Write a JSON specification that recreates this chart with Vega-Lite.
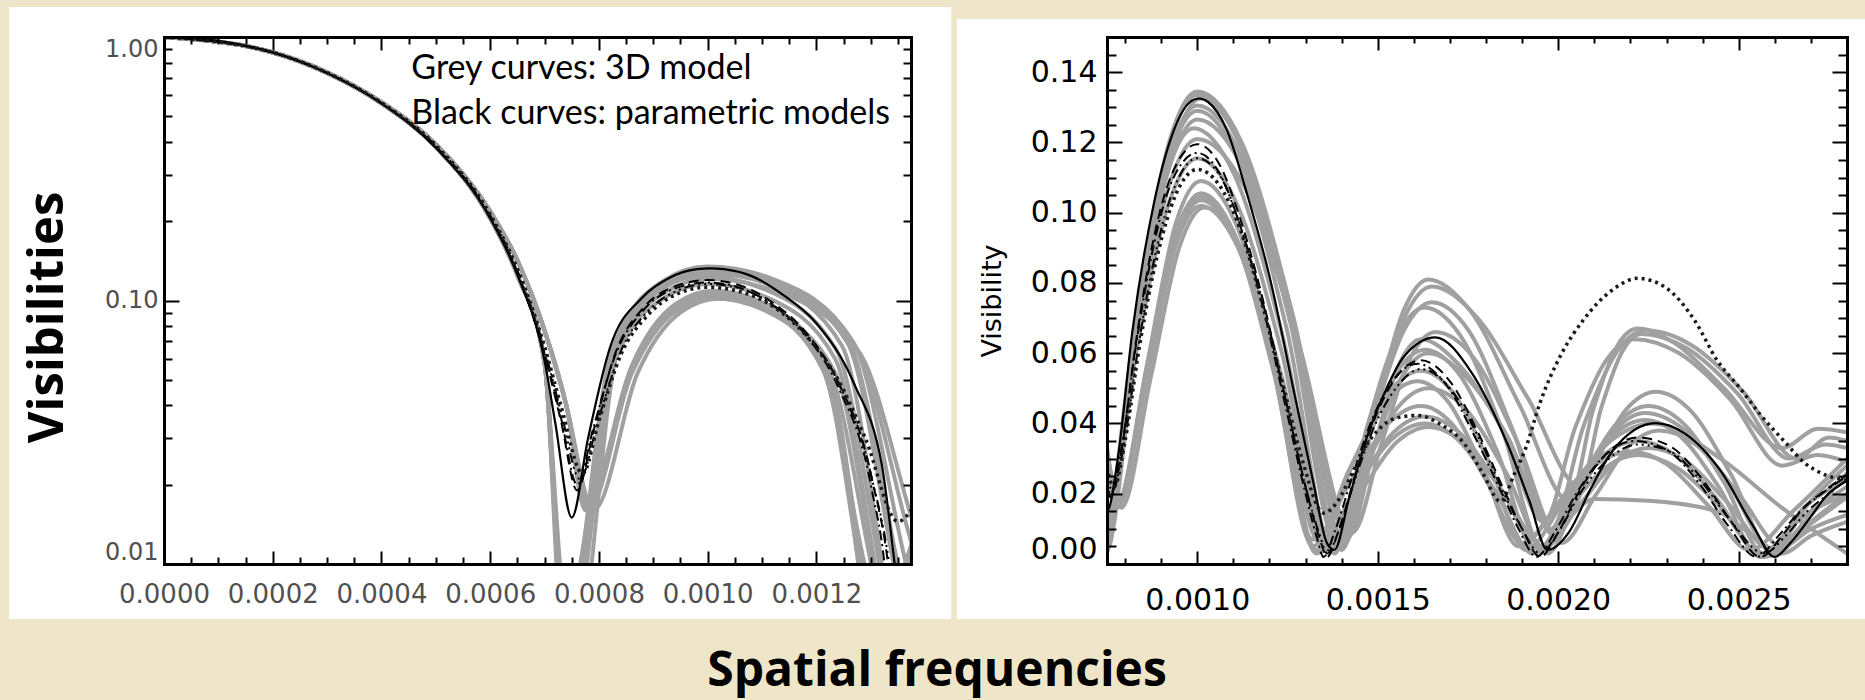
{
  "$schema": "https://vega.github.io/schema/vega-lite/v6.json",
  "background": "#efe6c9",
  "padding": {"left": 9, "top": 6, "right": 0, "bottom": 6},
  "autosize": {"type": "pad"},
  "title": {"text": "Spatial frequencies", "orient": "bottom", "anchor": "middle", "font": "Open Sans", "fontSize": 48, "fontWeight": "bold", "color": "black", "offset": 29},
  "spacing": 196,
  "bounds": "flush",
  "config": {
    "view": {"stroke": null},
    "axis": {"grid": false, "domainColor": "black", "domainWidth": 3, "domainCap": "square", "tickColor": "black", "tickWidth": 2, "labelFont": "DejaVu Sans"}
  },
  "datasets": {
    "grey": [
      {"curve":"G01","freq":0,"vis":1.0},{"curve":"G01","freq":0.0002,"vis":0.873},{"curve":"G01","freq":0.0003,"vis":0.73},{"curve":"G01","freq":0.0004,"vis":0.56},{"curve":"G01","freq":0.0005,"vis":0.383},{"curve":"G01","freq":0.0006,"vis":0.205},{"curve":"G01","freq":0.00065,"vis":0.125},{"curve":"G01","freq":0.0007,"vis":0.058},
      {"curve":"G01","freq":0.00074,"vis":0.004},{"curve":"G01","freq":0.000831,"vis":0.070},{"curve":"G01","freq":0.000922,"vis":0.120},{"curve":"G01","freq":0.001,"vis":0.1345},{"curve":"G01","freq":0.001123,"vis":0.120},{"curve":"G01","freq":0.001267,"vis":0.070},{"curve":"G01","freq":0.00141,"vis":0.006},
      {"curve":"G01","freq":0.00149,"vis":0.042},{"curve":"G01","freq":0.001571,"vis":0.072},{"curve":"G01","freq":0.00164,"vis":0.081},{"curve":"G01","freq":0.001757,"vis":0.072},{"curve":"G01","freq":0.001894,"vis":0.045},{"curve":"G01","freq":0.00203,"vis":0.018},
      {"curve":"G01","freq":0.002097,"vis":0.044},{"curve":"G01","freq":0.002163,"vis":0.062},{"curve":"G01","freq":0.00222,"vis":0.067},{"curve":"G01","freq":0.00232,"vis":0.063},{"curve":"G01","freq":0.00246,"vis":0.050},{"curve":"G01","freq":0.00262,"vis":0.033},{"curve":"G01","freq":0.00272,"vis":0.0385},{"curve":"G01","freq":0.0028,"vis":0.0375},

      {"curve":"G02","freq":0,"vis":1.0},{"curve":"G02","freq":0.0002,"vis":0.873},{"curve":"G02","freq":0.0003,"vis":0.73},{"curve":"G02","freq":0.0004,"vis":0.56},{"curve":"G02","freq":0.0005,"vis":0.383},{"curve":"G02","freq":0.0006,"vis":0.205},{"curve":"G02","freq":0.00065,"vis":0.125},{"curve":"G02","freq":0.0007,"vis":0.058},
      {"curve":"G02","freq":0.00074,"vis":0.005},{"curve":"G02","freq":0.000831,"vis":0.0697},{"curve":"G02","freq":0.000922,"vis":0.119},{"curve":"G02","freq":0.001,"vis":0.1335},{"curve":"G02","freq":0.00112,"vis":0.119},{"curve":"G02","freq":0.00126,"vis":0.0697},{"curve":"G02","freq":0.0014,"vis":0.004},
      {"curve":"G02","freq":0.001488,"vis":0.0412},{"curve":"G02","freq":0.001575,"vis":0.0704},{"curve":"G02","freq":0.00165,"vis":0.079},{"curve":"G02","freq":0.001773,"vis":0.0704},{"curve":"G02","freq":0.001917,"vis":0.047},{"curve":"G02","freq":0.00206,"vis":0.022},
      {"curve":"G02","freq":0.00212,"vis":0.0447},{"curve":"G02","freq":0.002179,"vis":0.0608},{"curve":"G02","freq":0.00223,"vis":0.0655},{"curve":"G02","freq":0.002353,"vis":0.0616},{"curve":"G02","freq":0.002497,"vis":0.0485},{"curve":"G02","freq":0.00264,"vis":0.030},{"curve":"G02","freq":0.00274,"vis":0.034},{"curve":"G02","freq":0.0028,"vis":0.033},

      {"curve":"G03","freq":0,"vis":1.0},{"curve":"G03","freq":0.0002,"vis":0.873},{"curve":"G03","freq":0.0003,"vis":0.73},{"curve":"G03","freq":0.0004,"vis":0.56},{"curve":"G03","freq":0.0005,"vis":0.383},{"curve":"G03","freq":0.0006,"vis":0.205},{"curve":"G03","freq":0.00065,"vis":0.125},{"curve":"G03","freq":0.0007,"vis":0.058},
      {"curve":"G03","freq":0.000745,"vis":0.003},{"curve":"G03","freq":0.000838,"vis":0.0692},{"curve":"G03","freq":0.000931,"vis":0.118},{"curve":"G03","freq":0.00101,"vis":0.1325},{"curve":"G03","freq":0.001124,"vis":0.118},{"curve":"G03","freq":0.001257,"vis":0.0692},{"curve":"G03","freq":0.00139,"vis":0.005},
      {"curve":"G03","freq":0.001481,"vis":0.0389},{"curve":"G03","freq":0.001572,"vis":0.0664},{"curve":"G03","freq":0.00165,"vis":0.0745},{"curve":"G03","freq":0.001752,"vis":0.0664},{"curve":"G03","freq":0.001871,"vis":0.0389},{"curve":"G03","freq":0.00199,"vis":0.008},
      {"curve":"G03","freq":0.002088,"vis":0.0256},{"curve":"G03","freq":0.002186,"vis":0.0437},{"curve":"G03","freq":0.00227,"vis":0.049},{"curve":"G03","freq":0.002366,"vis":0.0437},{"curve":"G03","freq":0.002478,"vis":0.0256},{"curve":"G03","freq":0.00259,"vis":0.004},{"curve":"G03","freq":0.0027,"vis":0.018},{"curve":"G03","freq":0.0028,"vis":0.028},

      {"curve":"G04","freq":0,"vis":1.0},{"curve":"G04","freq":0.0002,"vis":0.873},{"curve":"G04","freq":0.0003,"vis":0.73},{"curve":"G04","freq":0.0004,"vis":0.56},{"curve":"G04","freq":0.0005,"vis":0.383},{"curve":"G04","freq":0.0006,"vis":0.205},{"curve":"G04","freq":0.00065,"vis":0.125},{"curve":"G04","freq":0.0007,"vis":0.058},
      {"curve":"G04","freq":0.00074,"vis":0.006},{"curve":"G04","freq":0.000831,"vis":0.0673},{"curve":"G04","freq":0.000922,"vis":0.115},{"curve":"G04","freq":0.001,"vis":0.129},{"curve":"G04","freq":0.001114,"vis":0.115},{"curve":"G04","freq":0.001247,"vis":0.0673},{"curve":"G04","freq":0.00138,"vis":0.003},
      {"curve":"G04","freq":0.001468,"vis":0.0381},{"curve":"G04","freq":0.001555,"vis":0.065},{"curve":"G04","freq":0.00163,"vis":0.073},{"curve":"G04","freq":0.001729,"vis":0.065},{"curve":"G04","freq":0.001845,"vis":0.0381},{"curve":"G04","freq":0.00196,"vis":0.004},
      {"curve":"G04","freq":0.002062,"vis":0.0235},{"curve":"G04","freq":0.002163,"vis":0.0401},{"curve":"G04","freq":0.00225,"vis":0.045},{"curve":"G04","freq":0.002346,"vis":0.0401},{"curve":"G04","freq":0.002458,"vis":0.0235},{"curve":"G04","freq":0.00257,"vis":0.003},{"curve":"G04","freq":0.00268,"vis":0.016},{"curve":"G04","freq":0.0028,"vis":0.024},

      {"curve":"G05","freq":0,"vis":1.0},{"curve":"G05","freq":0.0002,"vis":0.873},{"curve":"G05","freq":0.0003,"vis":0.73},{"curve":"G05","freq":0.0004,"vis":0.56},{"curve":"G05","freq":0.0005,"vis":0.383},{"curve":"G05","freq":0.0006,"vis":0.205},{"curve":"G05","freq":0.00065,"vis":0.125},{"curve":"G05","freq":0.0007,"vis":0.058},
      {"curve":"G05","freq":0.00074,"vis":0.004},{"curve":"G05","freq":0.000831,"vis":0.066},{"curve":"G05","freq":0.000922,"vis":0.1127},{"curve":"G05","freq":0.001,"vis":0.1265},{"curve":"G05","freq":0.001126,"vis":0.1127},{"curve":"G05","freq":0.001273,"vis":0.066},{"curve":"G05","freq":0.00142,"vis":0.008},
      {"curve":"G05","freq":0.00149,"vis":0.0334},{"curve":"G05","freq":0.00156,"vis":0.057},{"curve":"G05","freq":0.00162,"vis":0.064},{"curve":"G05","freq":0.001722,"vis":0.057},{"curve":"G05","freq":0.001841,"vis":0.039},{"curve":"G05","freq":0.00196,"vis":0.012},
      {"curve":"G05","freq":0.002048,"vis":0.0391},{"curve":"G05","freq":0.002135,"vis":0.0583},{"curve":"G05","freq":0.00221,"vis":0.064},{"curve":"G05","freq":0.002333,"vis":0.0601},{"curve":"G05","freq":0.002477,"vis":0.0468},{"curve":"G05","freq":0.00262,"vis":0.028},{"curve":"G05","freq":0.00272,"vis":0.031},{"curve":"G05","freq":0.0028,"vis":0.029},

      {"curve":"G06","freq":0,"vis":1.0},{"curve":"G06","freq":0.0002,"vis":0.873},{"curve":"G06","freq":0.0003,"vis":0.73},{"curve":"G06","freq":0.0004,"vis":0.56},{"curve":"G06","freq":0.0005,"vis":0.383},{"curve":"G06","freq":0.0006,"vis":0.205},{"curve":"G06","freq":0.00065,"vis":0.125},{"curve":"G06","freq":0.0007,"vis":0.058},
      {"curve":"G06","freq":0.000735,"vis":0.005},{"curve":"G06","freq":0.000824,"vis":0.0647},{"curve":"G06","freq":0.000914,"vis":0.1105},{"curve":"G06","freq":0.00099,"vis":0.124},{"curve":"G06","freq":0.001104,"vis":0.1105},{"curve":"G06","freq":0.001237,"vis":0.0647},{"curve":"G06","freq":0.00137,"vis":0.004},
      {"curve":"G06","freq":0.001461,"vis":0.0318},{"curve":"G06","freq":0.001552,"vis":0.0544},{"curve":"G06","freq":0.00163,"vis":0.061},{"curve":"G06","freq":0.001723,"vis":0.0544},{"curve":"G06","freq":0.001832,"vis":0.0318},{"curve":"G06","freq":0.00194,"vis":0.003},
      {"curve":"G06","freq":0.002045,"vis":0.0214},{"curve":"G06","freq":0.00215,"vis":0.0365},{"curve":"G06","freq":0.00224,"vis":0.041},{"curve":"G06","freq":0.002336,"vis":0.0365},{"curve":"G06","freq":0.002448,"vis":0.0214},{"curve":"G06","freq":0.00256,"vis":0.002},{"curve":"G06","freq":0.00266,"vis":0.012},{"curve":"G06","freq":0.0028,"vis":0.020},

      {"curve":"G07","freq":0,"vis":1.0},{"curve":"G07","freq":0.0002,"vis":0.873},{"curve":"G07","freq":0.0003,"vis":0.73},{"curve":"G07","freq":0.0004,"vis":0.56},{"curve":"G07","freq":0.0005,"vis":0.383},{"curve":"G07","freq":0.0006,"vis":0.205},{"curve":"G07","freq":0.00065,"vis":0.125},{"curve":"G07","freq":0.0007,"vis":0.058},
      {"curve":"G07","freq":0.00074,"vis":0.007},{"curve":"G07","freq":0.000831,"vis":0.0632},{"curve":"G07","freq":0.000922,"vis":0.1078},{"curve":"G07","freq":0.001,"vis":0.121},{"curve":"G07","freq":0.001129,"vis":0.1078},{"curve":"G07","freq":0.00128,"vis":0.0632},{"curve":"G07","freq":0.00143,"vis":0.009},
      {"curve":"G07","freq":0.001511,"vis":0.0345},{"curve":"G07","freq":0.001591,"vis":0.0588},{"curve":"G07","freq":0.00166,"vis":0.066},{"curve":"G07","freq":0.001765,"vis":0.0588},{"curve":"G07","freq":0.001888,"vis":0.0345},{"curve":"G07","freq":0.00201,"vis":0.006},
      {"curve":"G07","freq":0.002105,"vis":0.0198},{"curve":"G07","freq":0.002199,"vis":0.0339},{"curve":"G07","freq":0.00228,"vis":0.038},{"curve":"G07","freq":0.002382,"vis":0.0339},{"curve":"G07","freq":0.002501,"vis":0.0198},{"curve":"G07","freq":0.00262,"vis":0.005},{"curve":"G07","freq":0.0027,"vis":0.010},{"curve":"G07","freq":0.0028,"vis":0.014},

      {"curve":"G08","freq":0,"vis":1.0},{"curve":"G08","freq":0.0002,"vis":0.875},{"curve":"G08","freq":0.0003,"vis":0.735},{"curve":"G08","freq":0.0004,"vis":0.566},{"curve":"G08","freq":0.0005,"vis":0.392},{"curve":"G08","freq":0.0006,"vis":0.218},{"curve":"G08","freq":0.00065,"vis":0.142},{"curve":"G08","freq":0.0007,"vis":0.077},{"curve":"G08","freq":0.00074,"vis":0.040},
      {"curve":"G08","freq":0.00078,"vis":0.0166},{"curve":"G08","freq":0.000861,"vis":0.0569},{"curve":"G08","freq":0.000941,"vis":0.0971},{"curve":"G08","freq":0.00101,"vis":0.109},{"curve":"G08","freq":0.001106,"vis":0.0971},{"curve":"G08","freq":0.001218,"vis":0.0569},{"curve":"G08","freq":0.00133,"vis":0.004},
      {"curve":"G08","freq":0.001432,"vis":0.0287},{"curve":"G08","freq":0.001533,"vis":0.049},{"curve":"G08","freq":0.00162,"vis":0.055},{"curve":"G08","freq":0.001707,"vis":0.049},{"curve":"G08","freq":0.001809,"vis":0.0287},{"curve":"G08","freq":0.00191,"vis":0.004},
      {"curve":"G08","freq":0.002019,"vis":0.0183},{"curve":"G08","freq":0.002127,"vis":0.0312},{"curve":"G08","freq":0.00222,"vis":0.035},{"curve":"G08","freq":0.002322,"vis":0.0312},{"curve":"G08","freq":0.002441,"vis":0.0183},{"curve":"G08","freq":0.00256,"vis":0.003},{"curve":"G08","freq":0.00266,"vis":0.012},{"curve":"G08","freq":0.0028,"vis":0.022},

      {"curve":"G09","freq":0,"vis":1.0},{"curve":"G09","freq":0.0002,"vis":0.875},{"curve":"G09","freq":0.0003,"vis":0.735},{"curve":"G09","freq":0.0004,"vis":0.566},{"curve":"G09","freq":0.0005,"vis":0.392},{"curve":"G09","freq":0.0006,"vis":0.218},{"curve":"G09","freq":0.00065,"vis":0.142},{"curve":"G09","freq":0.0007,"vis":0.077},{"curve":"G09","freq":0.00074,"vis":0.040},
      {"curve":"G09","freq":0.00078,"vis":0.018},{"curve":"G09","freq":0.000861,"vis":0.0551},{"curve":"G09","freq":0.000941,"vis":0.094},{"curve":"G09","freq":0.00101,"vis":0.1055},{"curve":"G09","freq":0.001103,"vis":0.094},{"curve":"G09","freq":0.001212,"vis":0.0551},{"curve":"G09","freq":0.00132,"vis":0.005},
      {"curve":"G09","freq":0.001422,"vis":0.0271},{"curve":"G09","freq":0.001523,"vis":0.0463},{"curve":"G09","freq":0.00161,"vis":0.052},{"curve":"G09","freq":0.001694,"vis":0.0463},{"curve":"G09","freq":0.001792,"vis":0.0271},{"curve":"G09","freq":0.00189,"vis":0.005},
      {"curve":"G09","freq":0.001999,"vis":0.0167},{"curve":"G09","freq":0.002107,"vis":0.0285},{"curve":"G09","freq":0.0022,"vis":0.032},{"curve":"G09","freq":0.002299,"vis":0.0285},{"curve":"G09","freq":0.002415,"vis":0.0167},{"curve":"G09","freq":0.00253,"vis":0.004},{"curve":"G09","freq":0.00265,"vis":0.015},{"curve":"G09","freq":0.0028,"vis":0.030},

      {"curve":"G10","freq":0,"vis":1.0},{"curve":"G10","freq":0.0002,"vis":0.875},{"curve":"G10","freq":0.0003,"vis":0.735},{"curve":"G10","freq":0.0004,"vis":0.566},{"curve":"G10","freq":0.0005,"vis":0.392},{"curve":"G10","freq":0.0006,"vis":0.218},{"curve":"G10","freq":0.00065,"vis":0.142},{"curve":"G10","freq":0.0007,"vis":0.077},{"curve":"G10","freq":0.00074,"vis":0.040},
      {"curve":"G10","freq":0.000775,"vis":0.016},{"curve":"G10","freq":0.000857,"vis":0.054},{"curve":"G10","freq":0.00094,"vis":0.0922},{"curve":"G10","freq":0.00101,"vis":0.1035},{"curve":"G10","freq":0.001106,"vis":0.0922},{"curve":"G10","freq":0.001218,"vis":0.054},{"curve":"G10","freq":0.00133,"vis":0.003},
      {"curve":"G10","freq":0.001435,"vis":0.0209},{"curve":"G10","freq":0.00154,"vis":0.0356},{"curve":"G10","freq":0.00163,"vis":0.040},{"curve":"G10","freq":0.00172,"vis":0.0356},{"curve":"G10","freq":0.001825,"vis":0.0209},{"curve":"G10","freq":0.00193,"vis":0.003},
      {"curve":"G10","freq":0.002032,"vis":0.0162},{"curve":"G10","freq":0.002133,"vis":0.0276},{"curve":"G10","freq":0.00222,"vis":0.031},{"curve":"G10","freq":0.002325,"vis":0.0276},{"curve":"G10","freq":0.002448,"vis":0.0162},{"curve":"G10","freq":0.00257,"vis":0.002},{"curve":"G10","freq":0.00268,"vis":0.010},{"curve":"G10","freq":0.0028,"vis":0.019},

      {"curve":"G11","freq":0,"vis":1.0},{"curve":"G11","freq":0.0002,"vis":0.875},{"curve":"G11","freq":0.0003,"vis":0.735},{"curve":"G11","freq":0.0004,"vis":0.566},{"curve":"G11","freq":0.0005,"vis":0.392},{"curve":"G11","freq":0.0006,"vis":0.218},{"curve":"G11","freq":0.00065,"vis":0.142},{"curve":"G11","freq":0.0007,"vis":0.077},{"curve":"G11","freq":0.00074,"vis":0.040},
      {"curve":"G11","freq":0.00078,"vis":0.017},{"curve":"G11","freq":0.000861,"vis":0.0532},{"curve":"G11","freq":0.000941,"vis":0.0909},{"curve":"G11","freq":0.00101,"vis":0.102},{"curve":"G11","freq":0.001109,"vis":0.0909},{"curve":"G11","freq":0.001225,"vis":0.0532},{"curve":"G11","freq":0.00134,"vis":0.006},
      {"curve":"G11","freq":0.001442,"vis":0.0219},{"curve":"G11","freq":0.001543,"vis":0.0374},{"curve":"G11","freq":0.00163,"vis":0.042},{"curve":"G11","freq":0.001726,"vis":0.0374},{"curve":"G11","freq":0.001838,"vis":0.0219},{"curve":"G11","freq":0.00195,"vis":0.004},
      {"curve":"G11","freq":0.00202,"vis":0.012},{"curve":"G11","freq":0.0021,"vis":0.0185},{"curve":"G11","freq":0.00225,"vis":0.018},{"curve":"G11","freq":0.00244,"vis":0.015},{"curve":"G11","freq":0.00254,"vis":0.008},{"curve":"G11","freq":0.00262,"vis":0.003},{"curve":"G11","freq":0.0027,"vis":0.008},{"curve":"G11","freq":0.0028,"vis":0.012},

      {"curve":"G12","freq":0,"vis":1.0},{"curve":"G12","freq":0.0002,"vis":0.875},{"curve":"G12","freq":0.0003,"vis":0.735},{"curve":"G12","freq":0.0004,"vis":0.566},{"curve":"G12","freq":0.0005,"vis":0.392},{"curve":"G12","freq":0.0006,"vis":0.218},{"curve":"G12","freq":0.00065,"vis":0.142},{"curve":"G12","freq":0.0007,"vis":0.077},{"curve":"G12","freq":0.00074,"vis":0.040},
      {"curve":"G12","freq":0.00079,"vis":0.016},{"curve":"G12","freq":0.000871,"vis":0.053},{"curve":"G12","freq":0.000951,"vis":0.0904},{"curve":"G12","freq":0.00102,"vis":0.1015},{"curve":"G12","freq":0.001119,"vis":0.0904},{"curve":"G12","freq":0.001235,"vis":0.053},{"curve":"G12","freq":0.00135,"vis":0.005},
      {"curve":"G12","freq":0.001452,"vis":0.0204},{"curve":"G12","freq":0.001553,"vis":0.0347},{"curve":"G12","freq":0.00164,"vis":0.039},{"curve":"G12","freq":0.001736,"vis":0.0347},{"curve":"G12","freq":0.001848,"vis":0.0204},{"curve":"G12","freq":0.00196,"vis":0.005},
      {"curve":"G12","freq":0.002062,"vis":0.0172},{"curve":"G12","freq":0.002163,"vis":0.0294},{"curve":"G12","freq":0.00225,"vis":0.033},{"curve":"G12","freq":0.002352,"vis":0.0294},{"curve":"G12","freq":0.002471,"vis":0.0172},{"curve":"G12","freq":0.00259,"vis":0.004},{"curve":"G12","freq":0.0027,"vis":0.014},{"curve":"G12","freq":0.0028,"vis":0.026},

      {"curve":"G13","freq":0,"vis":1.0},{"curve":"G13","freq":0.0002,"vis":0.875},{"curve":"G13","freq":0.0003,"vis":0.735},{"curve":"G13","freq":0.0004,"vis":0.566},{"curve":"G13","freq":0.0005,"vis":0.392},{"curve":"G13","freq":0.0006,"vis":0.218},{"curve":"G13","freq":0.00065,"vis":0.142},{"curve":"G13","freq":0.0007,"vis":0.077},{"curve":"G13","freq":0.00074,"vis":0.040},
      {"curve":"G13","freq":0.00078,"vis":0.016},{"curve":"G13","freq":0.000861,"vis":0.0545},{"curve":"G13","freq":0.000941,"vis":0.0931},{"curve":"G13","freq":0.00101,"vis":0.1045},{"curve":"G13","freq":0.001103,"vis":0.0931},{"curve":"G13","freq":0.001212,"vis":0.0545},{"curve":"G13","freq":0.00132,"vis":0.007},
      {"curve":"G13","freq":0.001425,"vis":0.0235},{"curve":"G13","freq":0.00153,"vis":0.0401},{"curve":"G13","freq":0.00162,"vis":0.045},{"curve":"G13","freq":0.001704,"vis":0.0401},{"curve":"G13","freq":0.001802,"vis":0.0235},{"curve":"G13","freq":0.0019,"vis":0.006},
      {"curve":"G13","freq":0.002026,"vis":0.0209},{"curve":"G13","freq":0.002152,"vis":0.0356},{"curve":"G13","freq":0.00226,"vis":0.040},{"curve":"G13","freq":0.00245,"vis":0.030},{"curve":"G13","freq":0.00262,"vis":0.016},{"curve":"G13","freq":0.0028,"vis":0.003},

      {"curve":"G14","freq":0,"vis":1.0},{"curve":"G14","freq":0.0002,"vis":0.873},{"curve":"G14","freq":0.0003,"vis":0.73},{"curve":"G14","freq":0.0004,"vis":0.56},{"curve":"G14","freq":0.0005,"vis":0.383},{"curve":"G14","freq":0.0006,"vis":0.205},{"curve":"G14","freq":0.00065,"vis":0.125},{"curve":"G14","freq":0.0007,"vis":0.058},
      {"curve":"G14","freq":0.00074,"vis":0.004},{"curve":"G14","freq":0.000831,"vis":0.0603},{"curve":"G14","freq":0.000922,"vis":0.1029},{"curve":"G14","freq":0.001,"vis":0.1155},{"curve":"G14","freq":0.001108,"vis":0.1029},{"curve":"G14","freq":0.001234,"vis":0.0603},{"curve":"G14","freq":0.00136,"vis":0.004},
      {"curve":"G14","freq":0.001458,"vis":0.0261},{"curve":"G14","freq":0.001556,"vis":0.0446},{"curve":"G14","freq":0.00164,"vis":0.050},{"curve":"G14","freq":0.001739,"vis":0.0446},{"curve":"G14","freq":0.001855,"vis":0.0261},{"curve":"G14","freq":0.00197,"vis":0.003},
      {"curve":"G14","freq":0.002065,"vis":0.0224},{"curve":"G14","freq":0.002159,"vis":0.0383},{"curve":"G14","freq":0.00224,"vis":0.043},{"curve":"G14","freq":0.002348,"vis":0.0383},{"curve":"G14","freq":0.002474,"vis":0.0224},{"curve":"G14","freq":0.0026,"vis":0.003},{"curve":"G14","freq":0.0027,"vis":0.012},{"curve":"G14","freq":0.0028,"vis":0.020},

      {"curve":"G15","freq":0,"vis":1.0},{"curve":"G15","freq":0.0002,"vis":0.873},{"curve":"G15","freq":0.0003,"vis":0.73},{"curve":"G15","freq":0.0004,"vis":0.56},{"curve":"G15","freq":0.0005,"vis":0.383},{"curve":"G15","freq":0.0006,"vis":0.205},{"curve":"G15","freq":0.00065,"vis":0.125},{"curve":"G15","freq":0.0007,"vis":0.058},
      {"curve":"G15","freq":0.00074,"vis":0.005},{"curve":"G15","freq":0.000831,"vis":0.0681},{"curve":"G15","freq":0.000922,"vis":0.1163},{"curve":"G15","freq":0.001,"vis":0.1305},{"curve":"G15","freq":0.00112,"vis":0.1163},{"curve":"G15","freq":0.00126,"vis":0.0681},{"curve":"G15","freq":0.0014,"vis":0.005},
      {"curve":"G15","freq":0.001484,"vis":0.0313},{"curve":"G15","freq":0.001568,"vis":0.0535},{"curve":"G15","freq":0.00164,"vis":0.060},{"curve":"G15","freq":0.001742,"vis":0.0535},{"curve":"G15","freq":0.001861,"vis":0.036},{"curve":"G15","freq":0.00198,"vis":0.010},
      {"curve":"G15","freq":0.002071,"vis":0.0395},{"curve":"G15","freq":0.002162,"vis":0.0603},{"curve":"G15","freq":0.00224,"vis":0.0665},{"curve":"G15","freq":0.002366,"vis":0.0625},{"curve":"G15","freq":0.002513,"vis":0.049},{"curve":"G15","freq":0.00266,"vis":0.030},{"curve":"G15","freq":0.00275,"vis":0.036},{"curve":"G15","freq":0.0028,"vis":0.035}
    ],
    "black": [
      {"curve":"P1","freq":0,"vis":1.0},{"curve":"P1","freq":0.0001,"vis":0.967},{"curve":"P1","freq":0.0002,"vis":0.874},{"curve":"P1","freq":0.0003,"vis":0.73},{"curve":"P1","freq":0.0004,"vis":0.56},{"curve":"P1","freq":0.0005,"vis":0.38},{"curve":"P1","freq":0.0006,"vis":0.205},{"curve":"P1","freq":0.00065,"vis":0.125},{"curve":"P1","freq":0.0007,"vis":0.059},{"curve":"P1","freq":0.00072,"vis":0.034},
      {"curve":"P1","freq":0.00075,"vis":0.015},{"curve":"P1","freq":0.00078,"vis":0.030},{"curve":"P1","freq":0.00082,"vis":0.066},{"curve":"P1","freq":0.00088,"vis":0.1027},{"curve":"P1","freq":0.00093,"vis":0.122},{"curve":"P1","freq":0.00098,"vis":0.1315},{"curve":"P1","freq":0.001005,"vis":0.1325},{"curve":"P1","freq":0.00103,"vis":0.1315},{"curve":"P1","freq":0.00108,"vis":0.124},{"curve":"P1","freq":0.00114,"vis":0.1046},{"curve":"P1","freq":0.0012,"vis":0.082},{"curve":"P1","freq":0.00127,"vis":0.048},{"curve":"P1","freq":0.00132,"vis":0.024},{"curve":"P1","freq":0.00136,"vis":0.0058},{"curve":"P1","freq":0.00138,"vis":0.004},
      {"curve":"P1","freq":0.00142,"vis":0.0185},{"curve":"P1","freq":0.00147,"vis":0.0361},{"curve":"P1","freq":0.00152,"vis":0.049},{"curve":"P1","freq":0.00157,"vis":0.0587},{"curve":"P1","freq":0.00166,"vis":0.0645},{"curve":"P1","freq":0.00176,"vis":0.0545},{"curve":"P1","freq":0.00186,"vis":0.034},{"curve":"P1","freq":0.00192,"vis":0.018},{"curve":"P1","freq":0.00197,"vis":0.004},
      {"curve":"P1","freq":0.00203,"vis":0.0091},{"curve":"P1","freq":0.00209,"vis":0.0214},{"curve":"P1","freq":0.00215,"vis":0.0321},{"curve":"P1","freq":0.00227,"vis":0.0401},{"curve":"P1","freq":0.00235,"vis":0.0372},{"curve":"P1","freq":0.00245,"vis":0.0265},{"curve":"P1","freq":0.00254,"vis":0.0108},{"curve":"P1","freq":0.0026,"vis":0.002},{"curve":"P1","freq":0.00264,"vis":0.0056},{"curve":"P1","freq":0.0027,"vis":0.0135},{"curve":"P1","freq":0.00274,"vis":0.0191},{"curve":"P1","freq":0.0028,"vis":0.0237},

      {"curve":"P2","freq":0,"vis":1.0},{"curve":"P2","freq":0.0002,"vis":0.873},{"curve":"P2","freq":0.0003,"vis":0.73},{"curve":"P2","freq":0.0004,"vis":0.56},{"curve":"P2","freq":0.0005,"vis":0.383},{"curve":"P2","freq":0.0006,"vis":0.206},{"curve":"P2","freq":0.00065,"vis":0.127},{"curve":"P2","freq":0.0007,"vis":0.062},{"curve":"P2","freq":0.00073,"vis":0.035},
      {"curve":"P2","freq":0.00076,"vis":0.019},{"curve":"P2","freq":0.00079,"vis":0.032},{"curve":"P2","freq":0.00083,"vis":0.063},{"curve":"P2","freq":0.00088,"vis":0.093},{"curve":"P2","freq":0.00093,"vis":0.111},{"curve":"P2","freq":0.001,"vis":0.1195},{"curve":"P2","freq":0.00106,"vis":0.114},{"curve":"P2","freq":0.00112,"vis":0.098},{"curve":"P2","freq":0.00118,"vis":0.076},{"curve":"P2","freq":0.00124,"vis":0.049},{"curve":"P2","freq":0.0013,"vis":0.022},{"curve":"P2","freq":0.00134,"vis":0.007},{"curve":"P2","freq":0.00136,"vis":0.002},
      {"curve":"P2","freq":0.00139,"vis":0.009},{"curve":"P2","freq":0.00144,"vis":0.026},{"curve":"P2","freq":0.00149,"vis":0.041},{"curve":"P2","freq":0.00155,"vis":0.053},{"curve":"P2","freq":0.00162,"vis":0.058},{"curve":"P2","freq":0.0017,"vis":0.052},{"curve":"P2","freq":0.00178,"vis":0.037},{"curve":"P2","freq":0.00185,"vis":0.021},{"curve":"P2","freq":0.0019,"vis":0.010},{"curve":"P2","freq":0.00195,"vis":0.002},
      {"curve":"P2","freq":0.002,"vis":0.009},{"curve":"P2","freq":0.00206,"vis":0.021},{"curve":"P2","freq":0.00213,"vis":0.031},{"curve":"P2","freq":0.00222,"vis":0.036},{"curve":"P2","freq":0.00231,"vis":0.0335},{"curve":"P2","freq":0.0024,"vis":0.024},{"curve":"P2","freq":0.00248,"vis":0.012},{"curve":"P2","freq":0.00256,"vis":0.002},{"curve":"P2","freq":0.00262,"vis":0.008},{"curve":"P2","freq":0.00268,"vis":0.016},{"curve":"P2","freq":0.00274,"vis":0.021},{"curve":"P2","freq":0.0028,"vis":0.0255},

      {"curve":"P3","freq":0,"vis":1.0},{"curve":"P3","freq":0.0002,"vis":0.873},{"curve":"P3","freq":0.0003,"vis":0.73},{"curve":"P3","freq":0.0004,"vis":0.56},{"curve":"P3","freq":0.0005,"vis":0.384},{"curve":"P3","freq":0.0006,"vis":0.207},{"curve":"P3","freq":0.00065,"vis":0.128},{"curve":"P3","freq":0.0007,"vis":0.063},{"curve":"P3","freq":0.00073,"vis":0.036},
      {"curve":"P3","freq":0.00076,"vis":0.020},{"curve":"P3","freq":0.00079,"vis":0.033},{"curve":"P3","freq":0.00083,"vis":0.062},{"curve":"P3","freq":0.00088,"vis":0.091},{"curve":"P3","freq":0.00093,"vis":0.109},{"curve":"P3","freq":0.001,"vis":0.117},{"curve":"P3","freq":0.00106,"vis":0.1115},{"curve":"P3","freq":0.00112,"vis":0.096},{"curve":"P3","freq":0.00118,"vis":0.074},{"curve":"P3","freq":0.00124,"vis":0.047},{"curve":"P3","freq":0.0013,"vis":0.020},{"curve":"P3","freq":0.00133,"vis":0.008},{"curve":"P3","freq":0.00135,"vis":0.002},
      {"curve":"P3","freq":0.00138,"vis":0.009},{"curve":"P3","freq":0.00143,"vis":0.025},{"curve":"P3","freq":0.00148,"vis":0.040},{"curve":"P3","freq":0.00154,"vis":0.052},{"curve":"P3","freq":0.00161,"vis":0.057},{"curve":"P3","freq":0.00169,"vis":0.051},{"curve":"P3","freq":0.00177,"vis":0.036},{"curve":"P3","freq":0.00184,"vis":0.021},{"curve":"P3","freq":0.00189,"vis":0.010},{"curve":"P3","freq":0.00194,"vis":0.002},
      {"curve":"P3","freq":0.00199,"vis":0.009},{"curve":"P3","freq":0.00205,"vis":0.020},{"curve":"P3","freq":0.00212,"vis":0.030},{"curve":"P3","freq":0.00221,"vis":0.035},{"curve":"P3","freq":0.0023,"vis":0.0325},{"curve":"P3","freq":0.00239,"vis":0.023},{"curve":"P3","freq":0.00247,"vis":0.011},{"curve":"P3","freq":0.00255,"vis":0.002},{"curve":"P3","freq":0.00261,"vis":0.008},{"curve":"P3","freq":0.00267,"vis":0.015},{"curve":"P3","freq":0.00273,"vis":0.020},{"curve":"P3","freq":0.0028,"vis":0.025},

      {"curve":"P4","freq":0,"vis":1.0},{"curve":"P4","freq":0.0002,"vis":0.874},{"curve":"P4","freq":0.0003,"vis":0.731},{"curve":"P4","freq":0.0004,"vis":0.562},{"curve":"P4","freq":0.0005,"vis":0.386},{"curve":"P4","freq":0.0006,"vis":0.21},{"curve":"P4","freq":0.00065,"vis":0.13},{"curve":"P4","freq":0.0007,"vis":0.065},{"curve":"P4","freq":0.00073,"vis":0.038},
      {"curve":"P4","freq":0.000765,"vis":0.021},{"curve":"P4","freq":0.0008,"vis":0.036},{"curve":"P4","freq":0.00084,"vis":0.064},{"curve":"P4","freq":0.00089,"vis":0.091},{"curve":"P4","freq":0.00094,"vis":0.108},{"curve":"P4","freq":0.001,"vis":0.1155},{"curve":"P4","freq":0.00106,"vis":0.111},{"curve":"P4","freq":0.00112,"vis":0.096},{"curve":"P4","freq":0.00118,"vis":0.075},{"curve":"P4","freq":0.00124,"vis":0.049},{"curve":"P4","freq":0.0013,"vis":0.022},{"curve":"P4","freq":0.00134,"vis":0.008},{"curve":"P4","freq":0.00136,"vis":0.003},
      {"curve":"P4","freq":0.00139,"vis":0.009},{"curve":"P4","freq":0.00144,"vis":0.025},{"curve":"P4","freq":0.00149,"vis":0.039},{"curve":"P4","freq":0.00155,"vis":0.050},{"curve":"P4","freq":0.00162,"vis":0.0555},{"curve":"P4","freq":0.0017,"vis":0.050},{"curve":"P4","freq":0.00178,"vis":0.036},{"curve":"P4","freq":0.00185,"vis":0.020},{"curve":"P4","freq":0.0019,"vis":0.010},{"curve":"P4","freq":0.00195,"vis":0.003},
      {"curve":"P4","freq":0.002,"vis":0.009},{"curve":"P4","freq":0.00206,"vis":0.020},{"curve":"P4","freq":0.00213,"vis":0.029},{"curve":"P4","freq":0.00222,"vis":0.034},{"curve":"P4","freq":0.00231,"vis":0.032},{"curve":"P4","freq":0.0024,"vis":0.023},{"curve":"P4","freq":0.00248,"vis":0.012},{"curve":"P4","freq":0.00257,"vis":0.003},{"curve":"P4","freq":0.00263,"vis":0.008},{"curve":"P4","freq":0.00269,"vis":0.015},{"curve":"P4","freq":0.00275,"vis":0.020},{"curve":"P4","freq":0.0028,"vis":0.024},

      {"curve":"P5","freq":0,"vis":1.0},{"curve":"P5","freq":0.0002,"vis":0.874},{"curve":"P5","freq":0.0003,"vis":0.732},{"curve":"P5","freq":0.0004,"vis":0.563},{"curve":"P5","freq":0.0005,"vis":0.388},{"curve":"P5","freq":0.0006,"vis":0.212},{"curve":"P5","freq":0.00065,"vis":0.132},{"curve":"P5","freq":0.0007,"vis":0.067},{"curve":"P5","freq":0.00073,"vis":0.040},
      {"curve":"P5","freq":0.00077,"vis":0.022},{"curve":"P5","freq":0.0008,"vis":0.035},{"curve":"P5","freq":0.00084,"vis":0.062},{"curve":"P5","freq":0.00089,"vis":0.088},{"curve":"P5","freq":0.00094,"vis":0.105},{"curve":"P5","freq":0.001,"vis":0.1123},{"curve":"P5","freq":0.00106,"vis":0.108},{"curve":"P5","freq":0.00112,"vis":0.095},{"curve":"P5","freq":0.00118,"vis":0.074},{"curve":"P5","freq":0.00124,"vis":0.050},{"curve":"P5","freq":0.00129,"vis":0.030},{"curve":"P5","freq":0.00135,"vis":0.0145},
      {"curve":"P5","freq":0.00139,"vis":0.018},{"curve":"P5","freq":0.00143,"vis":0.026},{"curve":"P5","freq":0.00147,"vis":0.034},{"curve":"P5","freq":0.0015,"vis":0.038},{"curve":"P5","freq":0.00155,"vis":0.0415},{"curve":"P5","freq":0.00161,"vis":0.0423},{"curve":"P5","freq":0.00167,"vis":0.040},{"curve":"P5","freq":0.00174,"vis":0.0342},{"curve":"P5","freq":0.00179,"vis":0.026},{"curve":"P5","freq":0.00184,"vis":0.0178},
      {"curve":"P5","freq":0.00188,"vis":0.026},{"curve":"P5","freq":0.00191,"vis":0.033},{"curve":"P5","freq":0.00195,"vis":0.046},{"curve":"P5","freq":0.00201,"vis":0.060},{"curve":"P5","freq":0.00207,"vis":0.0695},{"curve":"P5","freq":0.00215,"vis":0.078},{"curve":"P5","freq":0.00222,"vis":0.0813},{"curve":"P5","freq":0.0023,"vis":0.0785},{"curve":"P5","freq":0.00238,"vis":0.069},{"curve":"P5","freq":0.00244,"vis":0.058},{"curve":"P5","freq":0.0025,"vis":0.0505},{"curve":"P5","freq":0.00256,"vis":0.0425},{"curve":"P5","freq":0.00263,"vis":0.0345},{"curve":"P5","freq":0.00268,"vis":0.029},{"curve":"P5","freq":0.00273,"vis":0.0258},{"curve":"P5","freq":0.0028,"vis":0.0238}
    ]
  },
  "hconcat": [
    {
      "width": 747,
      "height": 527,
      "resolve": {"axis": {"x": "independent", "y": "independent"}},
      "layer": [
        {
          "data": {"values": [{}]},
          "mark": {"type": "rect", "color": "white"},
          "encoding": {
            "x": {"datum": -0.000285, "type": "quantitative", "scale": {"domain": [0, 0.001374], "nice": false, "zero": false},
                  "axis": {"zindex": 1, "orient": "bottom", "values": [0, 0.0002, 0.0004, 0.0006, 0.0008, 0.001, 0.0012], "format": ".4f", "ticks": false, "tickSize": 0, "labelFont": "DejaVu Sans", "labelFontSize": 26, "labelColor": "#505050", "labelPadding": 17, "labelFlush": false, "title": null}},
            "x2": {"datum": 0.001448},
            "y": {"datum": 1.3, "type": "quantitative", "scale": {"type": "log", "domain": [0.01, 1], "nice": false},
                  "axis": {"zindex": 1, "orient": "left", "values": [0.01, 0.1, 1], "format": ".2f", "ticks": false, "tickSize": 0, "labelFont": "DejaVu Sans", "labelFontSize": 24, "labelColor": "#505050", "labelPadding": 6, "labelFlush": true, "title": "Visibilities", "titleFont": "Open Sans", "titleFontSize": 49, "titleFontWeight": "bold", "titleColor": "black", "titlePadding": 32, "titleY": 280}},
            "y2": {"datum": 0.006184}
          }
        },
        {
          "data": {"name": "grey"},
          "mark": {"type": "line", "clip": true, "interpolate": "monotone", "color": "#a0a0a0", "strokeWidth": 4},
          "encoding": {
            "x": {"field": "freq", "type": "quantitative", "scale": {"domain": [0, 0.001374], "nice": false, "zero": false},
                  "axis": {"zindex": 1, "orient": "bottom", "values": [0, 0.0002, 0.0004, 0.0006, 0.0008, 0.001, 0.0012], "labels": false, "domain": false, "tickSize": -13, "title": null}},
            "y": {"field": "vis", "type": "quantitative", "scale": {"type": "log", "domain": [0.01, 1], "nice": false},
                  "axis": {"zindex": 1, "orient": "left", "values": [0.01, 0.1, 1], "labels": false, "domain": false, "tickSize": -15, "title": null}},
            "detail": {"field": "curve"}
          }
        },
        {
          "data": {"name": "black"},
          "transform": [{"filter": {"field": "curve", "equal": "P1"}}],
          "mark": {"type": "line", "clip": true, "interpolate": "monotone", "color": "black", "strokeWidth": 2.2},
          "encoding": {
            "x": {"field": "freq", "type": "quantitative", "scale": {"domain": [0, 0.001374], "nice": false, "zero": false},
                  "axis": {"zindex": 1, "orient": "bottom", "values": [0.00005, 0.0001, 0.00015, 0.00025, 0.0003, 0.00035, 0.00045, 0.0005, 0.00055, 0.00065, 0.0007, 0.00075, 0.00085, 0.0009, 0.00095, 0.00105, 0.0011, 0.00115, 0.00125, 0.0013, 0.00135], "labels": false, "domain": false, "tickSize": -7, "title": null}},
            "y": {"field": "vis", "type": "quantitative", "scale": {"type": "log", "domain": [0.01, 1], "nice": false},
                  "axis": {"zindex": 1, "orient": "left", "values": [0.02, 0.03, 0.04, 0.05, 0.06, 0.07, 0.08, 0.09, 0.2, 0.3, 0.4, 0.5, 0.6, 0.7, 0.8, 0.9], "labels": false, "domain": false, "tickSize": -8, "title": null}}
          }
        },
        {
          "data": {"name": "black"},
          "transform": [{"filter": {"field": "curve", "oneOf": ["P2", "P3", "P4"]}}],
          "mark": {"type": "line", "clip": true, "interpolate": "monotone", "color": "black", "strokeWidth": 2},
          "encoding": {
            "x": {"field": "freq", "type": "quantitative", "scale": {"domain": [0, 0.001374], "nice": false, "zero": false},
                  "axis": {"zindex": 1, "orient": "top", "values": [0, 0.0002, 0.0004, 0.0006, 0.0008, 0.001, 0.0012], "labels": false, "tickSize": -13, "title": null}},
            "y": {"field": "vis", "type": "quantitative", "scale": {"type": "log", "domain": [0.01, 1], "nice": false},
                  "axis": {"zindex": 1, "orient": "right", "values": [0.01, 0.1, 1], "labels": false, "tickSize": -15, "title": null}},
            "strokeDash": {"field": "curve", "type": "nominal", "scale": {"domain": ["P2", "P3", "P4"], "range": [[10, 6], [10, 4, 2, 4], [10, 4, 2, 4, 2, 4, 2, 4]]}, "legend": null}
          }
        },
        {
          "data": {"name": "black"},
          "transform": [{"filter": {"field": "curve", "equal": "P5"}}],
          "mark": {"type": "line", "clip": true, "interpolate": "monotone", "color": "#1a1a1a", "strokeWidth": 3.5, "strokeDash": [3, 4]},
          "encoding": {
            "x": {"field": "freq", "type": "quantitative", "scale": {"domain": [0, 0.001374], "nice": false, "zero": false},
                  "axis": {"zindex": 1, "orient": "top", "values": [0.00005, 0.0001, 0.00015, 0.00025, 0.0003, 0.00035, 0.00045, 0.0005, 0.00055, 0.00065, 0.0007, 0.00075, 0.00085, 0.0009, 0.00095, 0.00105, 0.0011, 0.00115, 0.00125, 0.0013, 0.00135], "labels": false, "domain": false, "tickSize": -7, "title": null}},
            "y": {"field": "vis", "type": "quantitative", "scale": {"type": "log", "domain": [0.01, 1], "nice": false},
                  "axis": {"zindex": 1, "orient": "right", "values": [0.02, 0.03, 0.04, 0.05, 0.06, 0.07, 0.08, 0.09, 0.2, 0.3, 0.4, 0.5, 0.6, 0.7, 0.8, 0.9], "labels": false, "domain": false, "tickSize": -8, "title": null}}
          }
        },
        {
          "data": {"values": [{}]},
          "mark": {"type": "text", "font": "Lato", "fontSize": 34, "align": "left", "baseline": "alphabetic", "lineHeight": 45, "color": "black"},
          "encoding": {
            "x": {"datum": 0.000455, "type": "quantitative", "scale": {"domain": [0, 0.001374], "nice": false, "zero": false}, "axis": null},
            "y": {"datum": 0.693, "type": "quantitative", "scale": {"type": "log", "domain": [0.01, 1], "nice": false}, "axis": null},
            "text": {"value": ["Grey curves: 3D model", "Black curves: parametric models"]}
          }
        }
      ]
    },
    {
      "width": 740,
      "height": 527,
      "resolve": {"axis": {"x": "independent", "y": "independent"}},
      "layer": [
        {
          "data": {"values": [{}]},
          "mark": {"type": "rect", "color": "white"},
          "encoding": {
            "x": {"datum": 0.000334, "type": "quantitative", "scale": {"domain": [0.00075, 0.0028], "nice": false, "zero": false},
                  "axis": {"zindex": 1, "orient": "bottom", "values": [0.001, 0.0015, 0.002, 0.0025], "format": ".4f", "ticks": false, "tickSize": 0, "labelFont": "DejaVu Sans", "labelFontSize": 30, "labelColor": "black", "labelPadding": 21, "labelFlush": false, "title": null}},
            "x2": {"datum": 0.00285},
            "y": {"datum": 0.1551, "type": "quantitative", "scale": {"domain": [0, 0.15], "nice": false, "zero": false},
                  "axis": {"zindex": 1, "orient": "left", "values": [0, 0.02, 0.04, 0.06, 0.08, 0.1, 0.12, 0.14], "format": ".2f", "ticks": false, "tickSize": 0, "labelFont": "DejaVu Sans", "labelFontSize": 30, "labelColor": "black", "labelPadding": 10, "labelFlush": true, "title": "Visibility", "titleFont": "DejaVu Sans", "titleFontSize": 27, "titleFontWeight": "normal", "titleColor": "black", "titlePadding": 24}},
            "y2": {"datum": -0.01565}
          }
        },
        {
          "data": {"name": "grey"},
          "mark": {"type": "line", "clip": true, "interpolate": "monotone", "color": "#a0a0a0", "strokeWidth": 4},
          "encoding": {
            "x": {"field": "freq", "type": "quantitative", "scale": {"domain": [0.00075, 0.0028], "nice": false, "zero": false},
                  "axis": {"zindex": 1, "orient": "bottom", "values": [0.001, 0.0015, 0.002, 0.0025], "labels": false, "domain": false, "tickSize": -13, "title": null}},
            "y": {"field": "vis", "type": "quantitative", "scale": {"domain": [0, 0.15], "nice": false, "zero": false},
                  "axis": {"zindex": 1, "orient": "left", "values": [0, 0.02, 0.04, 0.06, 0.08, 0.1, 0.12, 0.14], "labels": false, "domain": false, "tickSize": -15, "title": null}},
            "detail": {"field": "curve"}
          }
        },
        {
          "data": {"name": "black"},
          "transform": [{"filter": {"field": "curve", "equal": "P1"}}],
          "mark": {"type": "line", "clip": true, "interpolate": "monotone", "color": "black", "strokeWidth": 2.2},
          "encoding": {
            "x": {"field": "freq", "type": "quantitative", "scale": {"domain": [0.00075, 0.0028], "nice": false, "zero": false},
                  "axis": {"zindex": 1, "orient": "bottom", "values": [0.0008, 0.0009, 0.0011, 0.0012, 0.0013, 0.0014, 0.0016, 0.0017, 0.0018, 0.0019, 0.0021, 0.0022, 0.0023, 0.0024, 0.0026, 0.0027], "labels": false, "domain": false, "tickSize": -6, "title": null}},
            "y": {"field": "vis", "type": "quantitative", "scale": {"domain": [0, 0.15], "nice": false, "zero": false},
                  "axis": {"zindex": 1, "orient": "left", "values": [0.005, 0.01, 0.015, 0.025, 0.03, 0.035, 0.045, 0.05, 0.055, 0.065, 0.07, 0.075, 0.085, 0.09, 0.095, 0.105, 0.11, 0.115, 0.125, 0.13, 0.135, 0.145], "labels": false, "domain": false, "tickSize": -9, "title": null}}
          }
        },
        {
          "data": {"name": "black"},
          "transform": [{"filter": {"field": "curve", "oneOf": ["P2", "P3", "P4"]}}],
          "mark": {"type": "line", "clip": true, "interpolate": "monotone", "color": "black", "strokeWidth": 2},
          "encoding": {
            "x": {"field": "freq", "type": "quantitative", "scale": {"domain": [0.00075, 0.0028], "nice": false, "zero": false},
                  "axis": {"zindex": 1, "orient": "top", "values": [0.001, 0.0015, 0.002, 0.0025], "labels": false, "tickSize": -13, "title": null}},
            "y": {"field": "vis", "type": "quantitative", "scale": {"domain": [0, 0.15], "nice": false, "zero": false},
                  "axis": {"zindex": 1, "orient": "right", "values": [0, 0.02, 0.04, 0.06, 0.08, 0.1, 0.12, 0.14], "labels": false, "tickSize": -15, "title": null}},
            "strokeDash": {"field": "curve", "type": "nominal", "scale": {"domain": ["P2", "P3", "P4"], "range": [[10, 6], [10, 4, 2, 4], [10, 4, 2, 4, 2, 4, 2, 4]]}, "legend": null}
          }
        },
        {
          "data": {"name": "black"},
          "transform": [{"filter": {"field": "curve", "equal": "P5"}}],
          "mark": {"type": "line", "clip": true, "interpolate": "monotone", "color": "#1a1a1a", "strokeWidth": 3.5, "strokeDash": [3, 4]},
          "encoding": {
            "x": {"field": "freq", "type": "quantitative", "scale": {"domain": [0.00075, 0.0028], "nice": false, "zero": false},
                  "axis": {"zindex": 1, "orient": "top", "values": [0.0008, 0.0009, 0.0011, 0.0012, 0.0013, 0.0014, 0.0016, 0.0017, 0.0018, 0.0019, 0.0021, 0.0022, 0.0023, 0.0024, 0.0026, 0.0027], "labels": false, "domain": false, "tickSize": -6, "title": null}},
            "y": {"field": "vis", "type": "quantitative", "scale": {"domain": [0, 0.15], "nice": false, "zero": false},
                  "axis": {"zindex": 1, "orient": "right", "values": [0.005, 0.01, 0.015, 0.025, 0.03, 0.035, 0.045, 0.05, 0.055, 0.065, 0.07, 0.075, 0.085, 0.09, 0.095, 0.105, 0.11, 0.115, 0.125, 0.13, 0.135, 0.145], "labels": false, "domain": false, "tickSize": -9, "title": null}}
          }
        }
      ]
    }
  ]
}
